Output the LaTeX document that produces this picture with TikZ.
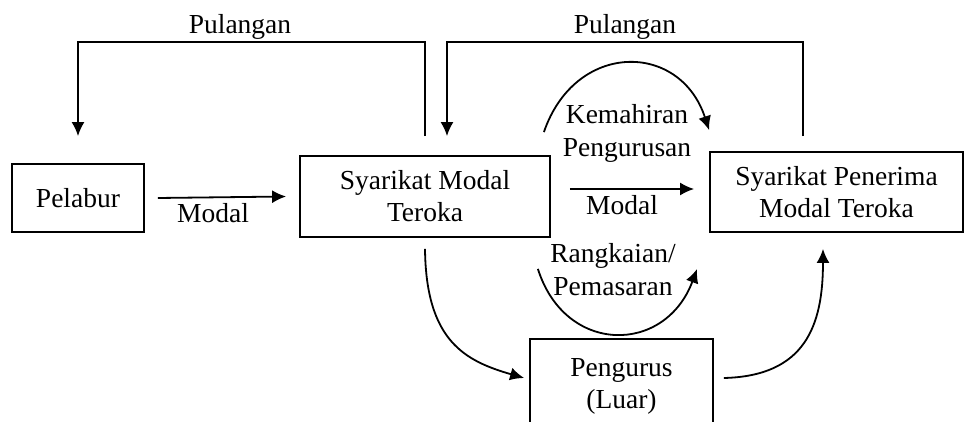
\documentclass[tikz,border=0pt]{standalone}
\usepackage{fontspec}
\setmainfont{Liberation Serif}
\usetikzlibrary{arrows.meta}
\begin{document}
\begin{tikzpicture}[%
    x=1pt,
    y=1pt,
    box/.style={
      rectangle,
      draw,
      line width=1.8pt,
      align=center,
      inner sep=0pt,
      font=\fontsize{27.5}{32}\selectfont
    },
    lbl/.style={
      align=center,
      inner sep=0pt,
      font=\fontsize{27.5}{33}\selectfont
    },
    flow/.style={
      line width=1.8pt,
      -{Latex[length=14pt,width=13pt]}
    },
  ]
    \clip[use as bounding box] (0,0) rectangle (966,421);
    \node[box, minimum width=132pt, minimum height=68pt] (pelabur) at (78,223) {Pelabur};
    \node[box, minimum width=250pt, minimum height=81pt] (smt) at (425,224.5) {Syarikat Modal\\Teroka};
    \node[box, minimum width=253pt, minimum height=80pt] (spmt) at (836.5,229) {Syarikat Penerima\\Modal Teroka};
    \node[box, minimum width=183pt, minimum height=94pt] (pengurus) at (621.5,35) {Pengurus\\(Luar)};
    % labels
    \node[lbl] (ret1) at (240,394) {Pulangan};
    \node[lbl] (ret2) at (625,394) {Pulangan};
    \node[lbl] (modal1) at (213,208) {Modal};
    \node[lbl] (modal2) at (622,216) {Modal};
    \node[lbl] (skill) at (627,288) {Kemahiran\\Pengurusan};
    \node[lbl] (network) at (613,151) {Rangkaian/\\Pemasaran};
    % connectors
    \draw[flow] ([xshift=13pt]pelabur.east) -- ([xshift=-13pt]smt.west);
    \draw[flow] ([yshift=19pt]smt.north) |- ([yshift=121pt]pelabur.north) -- ([yshift=27pt]pelabur.north);
    \draw[flow] ([xshift=-33.5pt,yshift=15pt]spmt.north) |- ([xshift=22pt,yshift=113pt]smt.north) -- ([xshift=22pt,yshift=19pt]smt.north);
    \draw[flow] ([xshift=19pt,yshift=7.5pt]smt.east) coordinate (m1) -- ([xshift=-15pt]m1 -| spmt.west);
    \draw[flow] ([xshift=-7pt,yshift=23pt]smt.north east) .. controls (575,380) and (680,380) .. ([yshift=21pt]spmt.north west);
    \draw[flow] ([xshift=-13pt,yshift=-31pt]smt.south east) .. controls (565,66) and (665,66) .. ([xshift=-12pt,yshift=-36pt]spmt.south west);
    \draw[flow] ([yshift=-11pt]smt.south) .. controls (426,80) and (465,60) .. ([xshift=-5pt,yshift=8pt]pengurus.west);
    \draw[flow] ([xshift=10pt,yshift=8pt]pengurus.east) .. controls (805,45) and (823,95) .. ([xshift=-13.5pt,yshift=-16pt]spmt.south);
  \end{tikzpicture}
\end{document}
